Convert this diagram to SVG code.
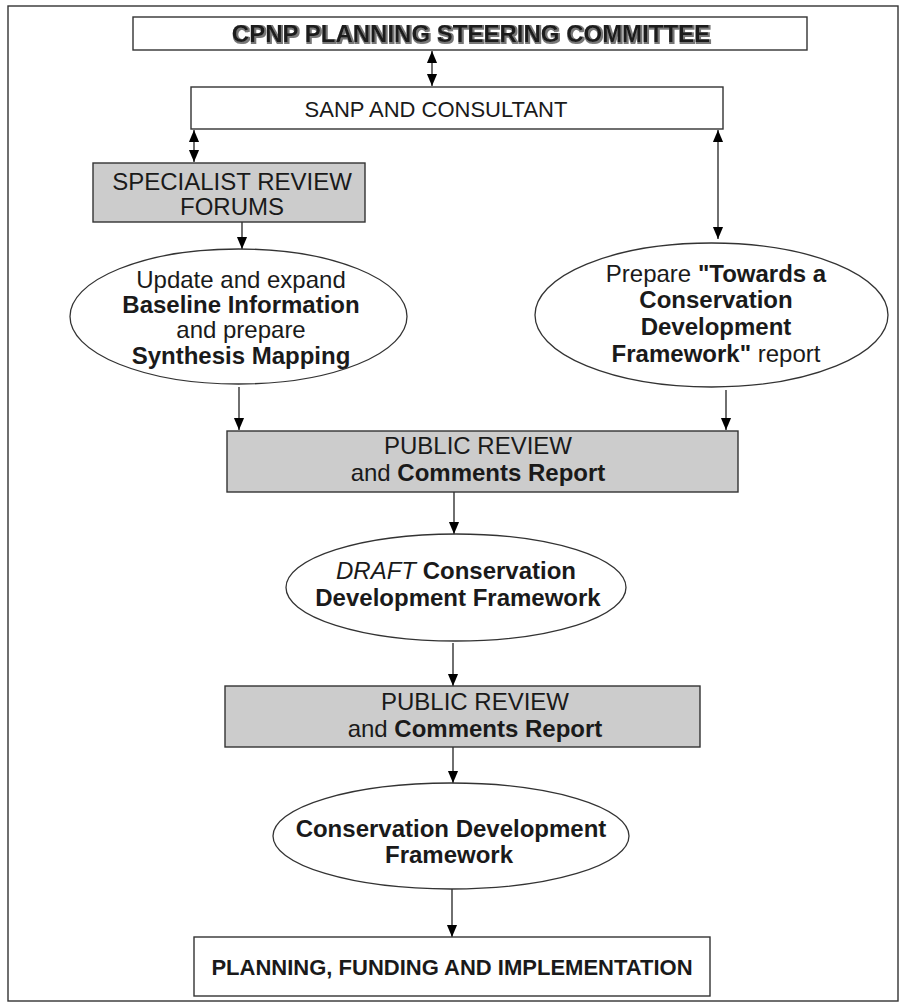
<svg xmlns="http://www.w3.org/2000/svg" width="906" height="1005" viewBox="0 0 906 1005">
<defs>
<style>
.box{fill:#fff;stroke:#333;stroke-width:1.4}
.gbox{fill:#cccccc;stroke:#333;stroke-width:1.4}
.ell{fill:#fff;stroke:#333;stroke-width:1.3}
.t{font-family:"Liberation Sans",Arial,sans-serif;font-size:24px;fill:#1a1a1a;text-anchor:middle}
.b{font-weight:bold}
.con{stroke:#333;stroke-width:1.4;fill:none}
</style>
<marker id="ah" markerUnits="userSpaceOnUse" markerWidth="12" markerHeight="14" refX="13" refY="5.5" viewBox="0 0 13 11" orient="auto-start-reverse">
<path d="M0,0 L13,5.5 L0,11 z" fill="#000"/>
</marker>
<filter id="sh" x="-5%" y="-30%" width="110%" height="160%">
<feMorphology in="SourceAlpha" operator="dilate" radius="0.8" result="d"/>
<feOffset in="d" dx="1" dy="1" result="o"/>
<feFlood flood-color="#777"/>
<feComposite in2="o" operator="in" result="s"/>
<feMerge><feMergeNode in="s"/><feMergeNode in="SourceGraphic"/></feMerge>
</filter>
</defs>
<rect x="8" y="6" width="890" height="995" fill="#fff" stroke="#333" stroke-width="1.4"/>

<g id="connectors">
<line class="con" x1="432" y1="51" x2="432" y2="86" marker-start="url(#ah)" marker-end="url(#ah)"/>
<line class="con" x1="194" y1="130" x2="194" y2="162" marker-start="url(#ah)" marker-end="url(#ah)"/>
<line class="con" x1="718" y1="130" x2="718" y2="239" marker-start="url(#ah)" marker-end="url(#ah)"/>
<line class="con" x1="242" y1="222" x2="242" y2="249" marker-end="url(#ah)"/>
<line class="con" x1="239" y1="387" x2="239" y2="430" marker-end="url(#ah)"/>
<line class="con" x1="726" y1="390" x2="726" y2="430" marker-end="url(#ah)"/>
<line class="con" x1="454" y1="492" x2="454" y2="534" marker-end="url(#ah)"/>
<line class="con" x1="453" y1="643" x2="453" y2="686" marker-end="url(#ah)"/>
<line class="con" x1="453" y1="747" x2="453" y2="783" marker-end="url(#ah)"/>
<line class="con" x1="452" y1="889" x2="452" y2="937" marker-end="url(#ah)"/>
</g>

<g id="steering">
<rect class="box" x="133" y="17" width="674" height="33"/>
<text class="t b" x="471" y="42" filter="url(#sh)" fill="#000">CPNP PLANNING STEERING COMMITTEE</text>
</g>

<g id="sanp">
<rect class="box" x="191" y="87" width="532" height="42"/>
<text class="t" x="436" y="117" style="font-size:22px">SANP AND CONSULTANT</text>
</g>

<g id="specialist">
<rect class="gbox" x="93" y="163" width="272" height="59"/>
<text class="t" x="232" y="190">SPECIALIST REVIEW</text>
<text class="t" x="232" y="215">FORUMS</text>
</g>

<g id="baseline">
<ellipse class="ell" cx="238.5" cy="316.5" rx="168.5" ry="67.5"/>
<text class="t" x="241" y="288">Update and expand</text>
<text class="t b" x="241" y="313">Baseline Information</text>
<text class="t" x="241" y="338">and prepare</text>
<text class="t b" x="241" y="364">Synthesis Mapping</text>
</g>

<g id="towards">
<ellipse class="ell" cx="711.5" cy="315" rx="176.5" ry="72"/>
<text class="t" x="716" y="282">Prepare <tspan class="b">"Towards a</tspan></text>
<text class="t b" x="716" y="308">Conservation</text>
<text class="t b" x="716" y="335">Development</text>
<text class="t" x="716" y="362"><tspan class="b">Framework"</tspan> report</text>
</g>

<g id="review1">
<rect class="gbox" x="227" y="431" width="511" height="61"/>
<text class="t" x="478" y="454">PUBLIC REVIEW</text>
<text class="t" x="478" y="481">and <tspan class="b">Comments Report</tspan></text>
</g>

<g id="draft">
<ellipse class="ell" cx="456" cy="587.5" rx="170" ry="53.5"/>
<text class="t" x="456" y="579"><tspan font-style="italic">DRAFT</tspan> <tspan class="b">Conservation</tspan></text>
<text class="t b" x="458" y="606">Development Framework</text>
</g>

<g id="review2">
<rect class="gbox" x="225" y="686" width="475" height="61"/>
<text class="t" x="475" y="710">PUBLIC REVIEW</text>
<text class="t" x="475" y="737">and <tspan class="b">Comments Report</tspan></text>
</g>

<g id="cdf">
<ellipse class="ell" cx="451" cy="836" rx="178" ry="53"/>
<text class="t b" x="451" y="837">Conservation Development</text>
<text class="t b" x="449" y="863">Framework</text>
</g>

<g id="implementation">
<rect class="box" x="194" y="937" width="516" height="59"/>
<text class="t b" x="452" y="975" style="font-size:22px">PLANNING, FUNDING AND IMPLEMENTATION</text>
</g>
</svg>
